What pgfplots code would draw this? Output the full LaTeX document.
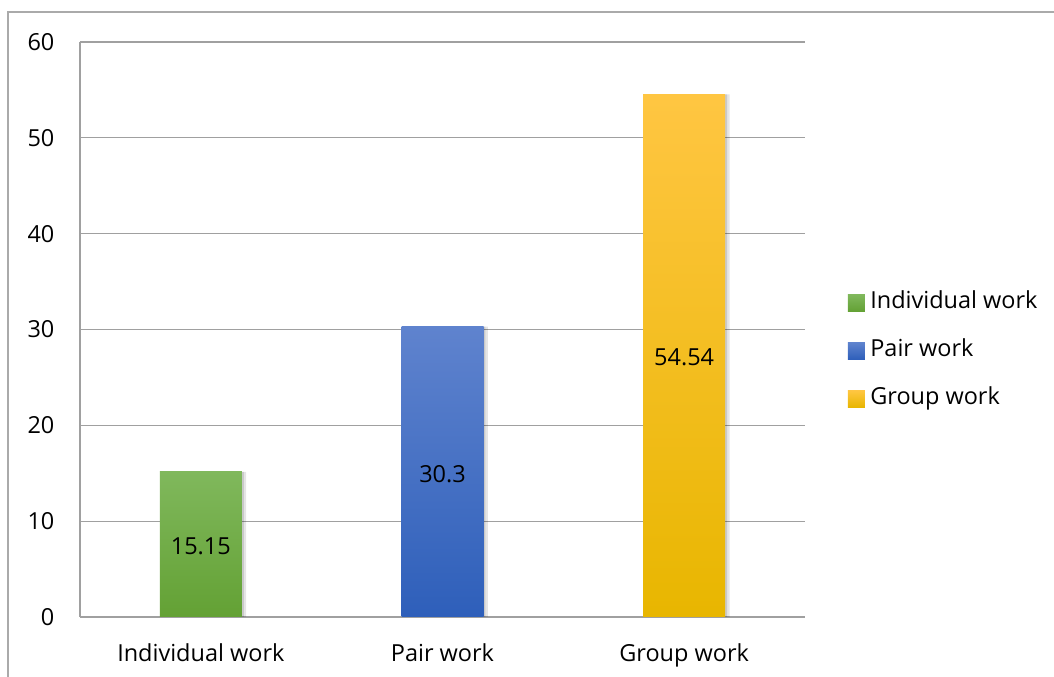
\documentclass[border=0pt]{standalone}
\usepackage{fontspec}
\setmainfont{Open Sans}
\usepackage{pgfplots}
\pgfplotsset{compat=1.18}
\definecolor{gtop}{RGB}{128,184,92}
\definecolor{gbot}{RGB}{99,161,52}
\definecolor{btop}{RGB}{95,131,206}
\definecolor{bbot}{RGB}{46,95,186}
\definecolor{ytop}{RGB}{255,198,66}
\definecolor{ybot}{RGB}{232,182,0}
\definecolor{gridc}{RGB}{160,160,160}
\definecolor{borderc}{RGB}{170,170,170}
\begin{document}
\begin{tikzpicture}
\useasboundingbox (0,0) rectangle (790.5pt,507.75pt);
\draw[borderc, line width=0.9pt] (6pt,0pt) -- (6pt,498.75pt) -- (790.5pt,498.75pt);
\begin{axis}[
  at={(60pt,45pt)}, anchor=south west,
  scale only axis, width=543.75pt, height=431.25pt,
  font=\fontsize{17.6}{20}\selectfont,
  /pgf/number format/assume math mode=true,
  ybar, bar width=61.5pt, bar shift=0pt,
  xmin=-0.5, xmax=2.5, ymin=0, ymax=60,
  xtick={0,1,2},
  xticklabels={Individual work, Pair work, Group work},
  ytick={0,10,...,60},
  major tick length=0pt,
  axis x line*=bottom, axis y line*=left,
  axis line style={draw=gridc, line width=0.9pt, -},
  ymajorgrids, grid style={draw=gridc, line width=0.9pt},
  yticklabel style={anchor=east, inner sep=0pt, xshift=-19pt},
  xticklabel style={anchor=north, inner sep=0pt, yshift=-19.5pt},
  visualization depends on=y \as \rawy,
  every node near coord/.append style={anchor=center, inner sep=0pt, black,
     shift={(axis direction cs:0,-\rawy/2)}, yshift=-1.5pt, font=\fontsize{17.6}{20}\selectfont},
  legend style={at={(1.0593,0.4626)}, anchor=west, draw=none, fill=none,
     inner sep=0pt, outer sep=0pt, row sep=20pt,
     nodes={inner sep=0pt, text height=12pt, text depth=4pt},
     /tikz/every odd column/.append style={column sep=4pt},
     font=\fontsize{17.6}{20}\selectfont},
  legend cell align=left,
]
% soft shadows behind the bars
\addplot[forget plot, draw=none, fill=black, fill opacity=0.10, bar shift=2.5pt, bar width=63pt]
  coordinates {(0,15.15) (1,30.3) (2,54.54)};
\addplot[forget plot, draw=none, fill=black, fill opacity=0.12, bar shift=1.2pt, bar width=62pt]
  coordinates {(0,15.15) (1,30.3) (2,54.54)};
\addplot[draw=none, top color=gtop, bottom color=gbot, nodes near coords,
  legend image code/.code={\fill[top color=gtop, bottom color=gbot] (0pt,-6.4pt) rectangle (12.75pt,6.4pt);}]
  coordinates {(0,15.15)};
\addlegendentry{Individual work}
\addplot[draw=none, top color=btop, bottom color=bbot, nodes near coords,
  legend image code/.code={\fill[top color=btop, bottom color=bbot] (0pt,-6.4pt) rectangle (12.75pt,6.4pt);}]
  coordinates {(1,30.3)};
\addlegendentry{Pair work}
\addplot[draw=none, top color=ytop, bottom color=ybot, nodes near coords,
  legend image code/.code={\fill[top color=ytop, bottom color=ybot] (0pt,-6.4pt) rectangle (12.75pt,6.4pt);}]
  coordinates {(2,54.54)};
\addlegendentry{Group work}
\end{axis}
\end{tikzpicture}
\end{document}
